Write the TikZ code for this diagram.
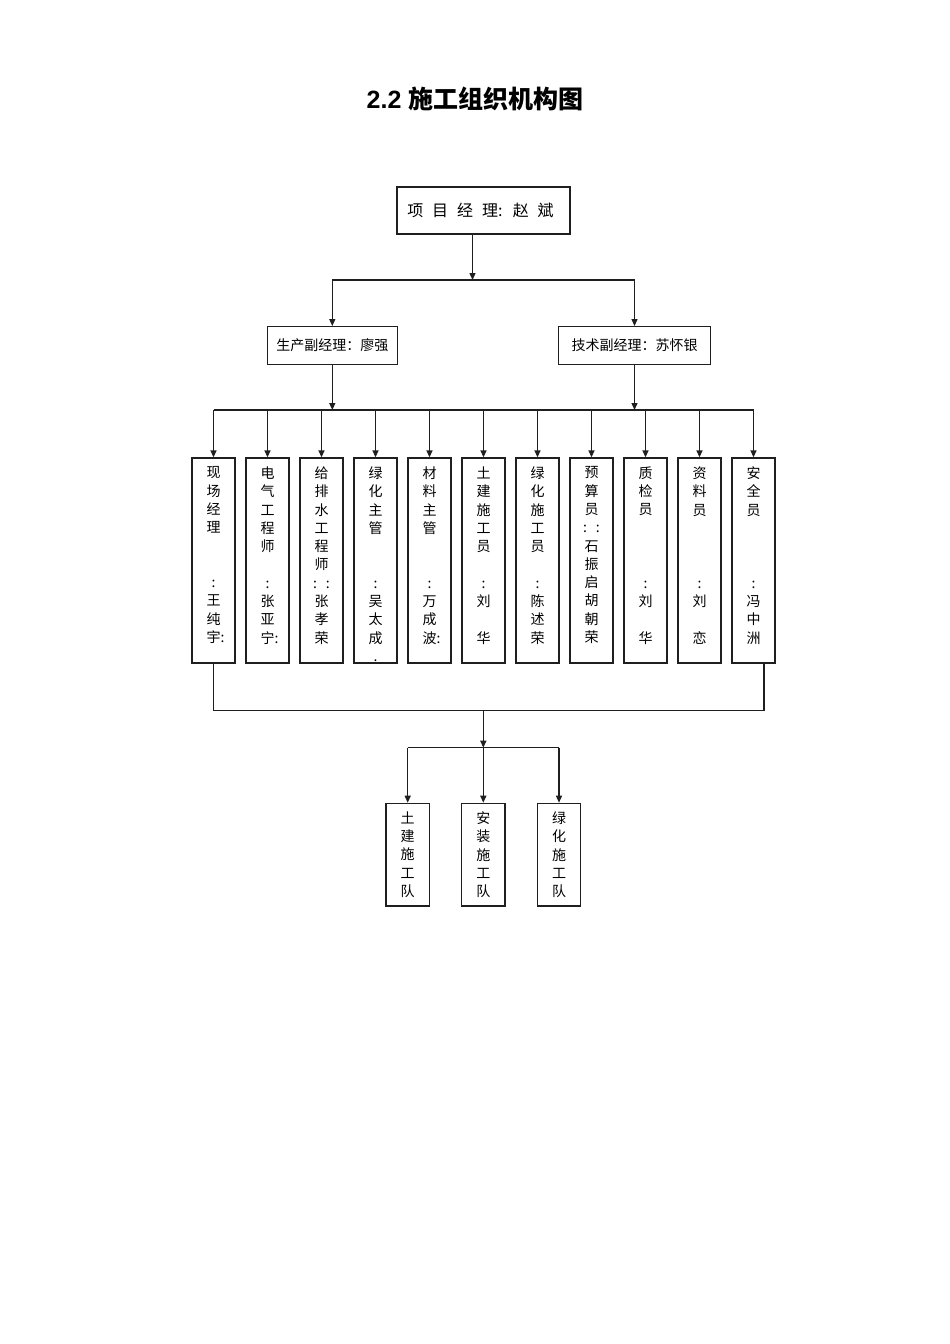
\documentclass[tikz,border=0pt]{standalone}
\usepackage{fontspec}
\usetikzlibrary{arrows.meta,calc}
\newfontfamily\cjk{Noto Sans CJK SC}
\newfontfamily\cjkwide[WordSpace=2.5]{Noto Sans CJK SC}
\newfontfamily\latinb{Liberation Sans}
\newcommand{\vcol}[1]{\parbox[c][187.6pt][t]{40pt}{\centering #1}}
\tikzset{
  line/.style={line width=1.3pt, draw=black!88},
  arr/.style={line, -{Triangle[length=7pt,width=6pt]}},
  hbox/.style={draw=black!88, line width=1.3pt, inner sep=0pt, minimum height=37.6pt, font=\cjk\fontsize{14}{17}\selectfont},
  vbox/.style={draw=black!88, line width=1.3pt, inner sep=0pt, minimum width=43pt, minimum height=205pt, font=\cjk\fontsize{14}{18.3}\selectfont},
  tbox/.style={draw=black!88, line width=1.3pt, inner sep=0pt, minimum width=43.3pt, minimum height=102.7pt, align=center, font=\cjk\fontsize{14}{18.4}\selectfont},
}
\begin{document}
\begin{tikzpicture}[x=1pt,y=-1pt]
\useasboundingbox (0,0) rectangle (950,1344);
\fill[white] (0,0) rectangle (950,1344);
% title
\node (title) at (475,99) {\latinb\bfseries\fontsize{25}{29}\selectfont 2.2 {\cjk\bfseries 施工组织机构图}};
% top
\node[draw=black!88, line width=1.3pt, minimum width=173pt, minimum height=47pt, inner sep=0pt, font=\cjkwide\fontsize{16}{18}\selectfont] (top) at (483.5,210.5) {\hspace*{-6pt}项 目 经 理: 赵 斌};
\node[hbox, minimum width=130pt] (sub1) at (332.3,345.5) {生产副经理：廖强};
\node[hbox, minimum width=152.4pt] (sub2) at (634.5,345.5) {技术副经理：苏怀银};
% vertical boxes
\node[vbox] (v1) at (213.5,560.5) {\vcol{现\\场\\经\\理\\\mbox{}\\\mbox{}\\:\\王\\纯\\宇\rlap{:}}};
\node[vbox] (v2) at (267.5,560.5) {\vcol{电\\气\\工\\程\\师\\\mbox{}\\:\\张\\亚\\宁\rlap{:}}};
\node[vbox] (v3) at (321.5,560.5) {\vcol{给\\排\\水\\工\\程\\师\\: :\\张\\孝\\荣}};
\node[vbox] (v4) at (375.5,560.5) {\vcol{绿\\化\\主\\管\\\mbox{}\\\mbox{}\\:\\吴\\太\\成\\.}};
\node[vbox] (v5) at (429.5,560.5) {\vcol{材\\料\\主\\管\\\mbox{}\\\mbox{}\\:\\万\\成\\波\rlap{:}}};
\node[vbox] (v6) at (483.5,560.5) {\vcol{土\\建\\施\\工\\员\\\mbox{}\\:\\刘\\\mbox{}\\华}};
\node[vbox] (v7) at (537.5,560.5) {\vcol{绿\\化\\施\\工\\员\\\mbox{}\\:\\陈\\述\\荣}};
\node[vbox] (v8) at (591.5,560.5) {\vcol{预\\算\\员\\: :\\石\\振\\启\\胡\\朝\\荣}};
\node[vbox] (v9) at (645.5,560.5) {\vcol{质\\检\\员\\\mbox{}\\\mbox{}\\\mbox{}\\:\\刘\\\mbox{}\\华}};
\node[vbox] (v10) at (699.5,560.5) {\vcol{资\\料\\员\\\mbox{}\\\mbox{}\\\mbox{}\\:\\刘\\\mbox{}\\恋}};
\node[vbox] (v11) at (753.5,560.5) {\vcol{安\\全\\员\\\mbox{}\\\mbox{}\\\mbox{}\\:\\冯\\中\\洲}};
% team boxes
\node[tbox] (b1) at (407.7,854.7) {土\\建\\施\\工\\队};
\node[tbox] (b2) at (483.3,854.7) {安\\装\\施\\工\\队};
\node[tbox] (b3) at (559,854.7) {绿\\化\\施\\工\\队};
% junctions
\coordinate (j1) at (472.5,280);
\coordinate (j2) at (0,410);
\coordinate (j3r) at (764,710.7);
\coordinate (j3c) at (483.3,710.7);
\coordinate (j4) at (483.3,747.7);
% top connectors
\draw[arr] (top.south -| j1) -- (j1);
\draw[line] (sub1.north |- j1) -- (sub2.north |- j1);
\draw[arr] (sub1.north |- j1) -- (sub1.north);
\draw[arr] (sub2.north |- j1) -- (sub2.north);
% middle connectors
\draw[arr] (sub1.south) -- (sub1.south |- j2);
\draw[arr] (sub2.south) -- (sub2.south |- j2);
\draw[line] (v1.north |- j2) -- (v11.north |- j2);
\foreach \i in {1,...,11} {
  \draw[arr] (v\i.north |- j2) -- (v\i.north);
}
% bottom connectors
\draw[line] (v1.south) |- (j3r) -- (j3r |- v11.south);
\draw[arr] (j3c) -- (j4);
\draw[line] (b1.north |- j4) -- (b3.north |- j4);
\draw[arr] (b1.north |- j4) -- (b1.north);
\draw[arr] (j4) -- (b2.north);
\draw[arr] (b3.north |- j4) -- (b3.north);
\end{tikzpicture}
\end{document}
